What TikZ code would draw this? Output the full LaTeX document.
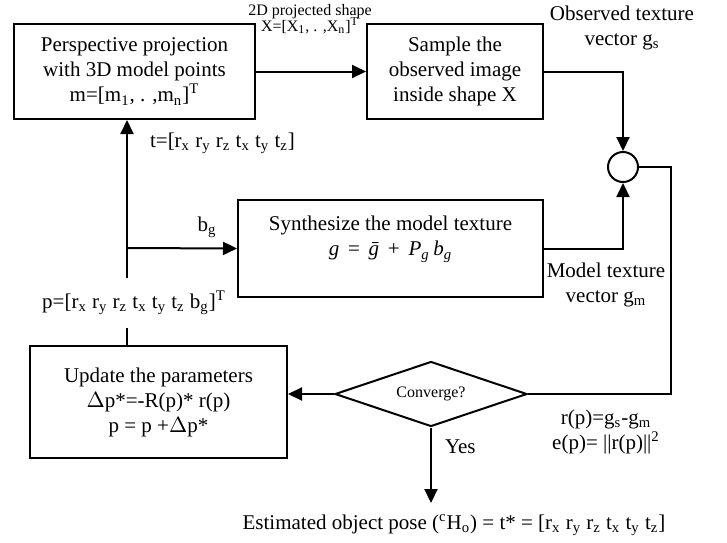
\documentclass[tikz,border=0pt]{standalone}
\usepackage{fontspec}
\setmainfont{Liberation Serif}
\usetikzlibrary{arrows.meta,shapes.geometric}
\newcommand{\sbs}[1]{\textsubscript{#1}}
\newcommand{\sps}[1]{\textsuperscript{#1}}
\tikzset{block/.style={draw, line width=1pt, align=center, inner sep=0pt},
         small/.style={font=\fontsize{8}{9}\selectfont},
         line/.style={line width=1pt},
         flow/.style={line, -{Triangle[length=7pt,width=6.5pt]}}}

\begin{document}
\begin{tikzpicture}[x=0.5pt,y=-0.5pt,font=\fontsize{10.5}{12.5}\selectfont]
  \useasboundingbox (0,0) rectangle (727,542);

  \node[block, minimum width=120.5pt, minimum height=47.5pt] (proj) at (134.5,71.5)
    {Perspective projection\\ with 3D model points\\ m=[m\sbs{1}, . ,m\sbs{n}]\sps{T}};
  \node[block, minimum width=88pt, minimum height=47.5pt] (sample) at (455,71.5)
    {Sample the\\ observed image\\ inside shape X};
  \node[block, minimum width=152.5pt, minimum height=48.5pt] (synth) at (390.5,248.5)
    {Synthesize the model texture\\ \textit{g}\, =\, \textit{\=g}\, +\, \textit{P}\sbs{\textit{g}}\,\textit{b}\sbs{\textit{g}}\hspace{1.5em}\\ \mbox{}};
  \node[block, minimum width=128.5pt, minimum height=56pt] (update) at (158.5,402)
    {Update the parameters\\ $\Delta$p*=-R(p)* r(p)\\ p = p +$\Delta$p*};
  \node[draw, line, diamond, aspect=2.95, minimum width=96pt, minimum height=32.5pt,
        inner sep=0pt, small] (conv) at (431,394) {Converge?};
  \node[draw, line, circle, minimum size=15pt, inner sep=0pt] (sum) at (623,167) {};

  \coordinate (corner) at (671,167);
  \coordinate (tap) at (127,248);
  \coordinate (gapHi) at (127,278);
  \coordinate (gapLo) at (127,328);
  \coordinate (out) at (431,503);

  \draw[flow] (proj) -- (sample);
  \draw[flow] (sample.east) -| (sum.north);
  \draw[flow] (synth.east) -| (sum.south);
  \draw[line] (sum.east) -- (corner) |- (conv.east);
  \draw[flow] (conv.west) -- (conv.west -| update.east);
  \draw[flow] (conv.south) -- (out);
  \draw[line] (update.north -| tap) -- (gapLo);
  \draw[flow] (gapHi) -- (tap) -- (tap |- proj.south);
  \draw[flow] (tap) -- (synth.west);

  \node[small] (shapeLbl) at (310,12) {2D projected shape};
  \node[small] (xLbl) at (310,26) {X=[X\sbs{1}, . ,X\sbs{n}]\sps{T}};
  \node[align=center] (gsLbl) at (622,28) {Observed texture\\ vector g\sbs{s}};
  \node[anchor=west] (tLbl) at (143,143) {t=[r\sbs{x} r\sbs{y} r\sbs{z} t\sbs{x} t\sbs{y} t\sbs{z}]};
  \node (bLbl) at (207,227) {b\sbs{g}};
  \node (pLbl) at (134,303) {p=[r\sbs{x} r\sbs{y} r\sbs{z} t\sbs{x} t\sbs{y} t\sbs{z} b\sbs{g}]\sps{T}};
  \node[align=center] (gmLbl) at (606,285) {Model texture\\ vector g\sbs{m}};
  \node[anchor=west] (yesLbl) at (438,447) {Yes};
  \node[align=center] (rLbl) at (606,432) {r(p)=g\sbs{s}-g\sbs{m}\\ e(p)= ||r(p)||\sps{2}};
  \node (poseLbl) at (454,525)
    {Estimated object pose (\sps{c}H\sbs{o}) = t* = [r\sbs{x} r\sbs{y} r\sbs{z} t\sbs{x} t\sbs{y} t\sbs{z}]};
\end{tikzpicture}
\end{document}
